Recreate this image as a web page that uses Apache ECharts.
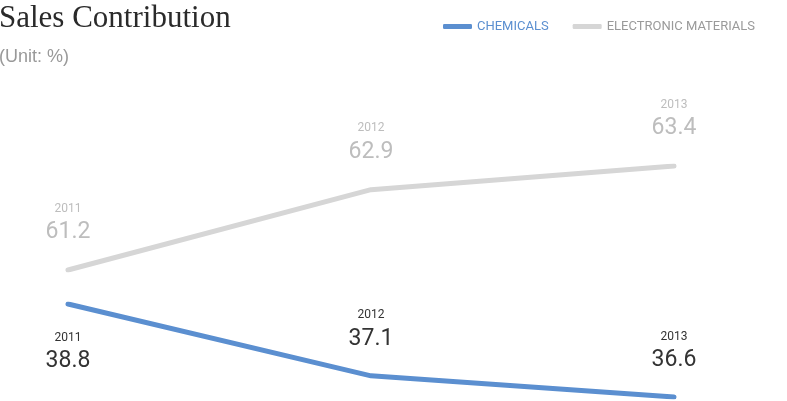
<!DOCTYPE html>
<html>
<head>
<meta charset="utf-8">
<script src="https://cdn.jsdelivr.net/npm/echarts@6/dist/echarts.min.js"></script>
<style>html,body{margin:0;padding:0;background:#fff}#c{width:787px;height:401px}</style>
</head>
<body>
<div id="c"></div>
<script>
var years = ['2011', '2012', '2013'];
var chemicals = [38.8, 37.1, 36.6];
var electronic = [61.2, 62.9, 63.4];
var seriesNames = ['CHEMICALS', 'ELECTRONIC MATERIALS'];

var BLUE = '#5b8fd0', GRAY = '#d6d6d6';

function labelFmt(p) {
  return '{y|' + p.name + '}\n{v|' + Number(p.value).toFixed(1) + '}';
}
function rich(yc, vc) {
  return {
    y: { fontFamily: 'Roboto', fontSize: 12, color: yc, lineHeight: 22, align: 'center' },
    v: { fontFamily: 'Roboto', fontSize: 23, color: vc, lineHeight: 26, align: 'center' }
  };
}

var chart = echarts.init(document.getElementById('c'), null, { renderer: 'canvas' });
var blueLabelPos = ['bottom', 'top', 'top'];

chart.setOption({
  animation: false,
  title: {
    text: 'Sales Contribution',
    subtext: '(Unit: %)',
    left: -1, top: 3,
    padding: 0,
    itemGap: 14,
    textStyle: { fontFamily: 'Liberation Serif', fontSize: 31, fontWeight: 'normal', color: '#2a2a2a' },
    subtextStyle: { fontFamily: 'Liberation Sans', fontSize: 18, color: '#999' }
  },
  legend: {
    left: 438, top: 15,
    icon: 'roundRect',
    itemWidth: 29, itemHeight: 5,
    itemGap: 24,
    textStyle: { fontFamily: 'Roboto', fontSize: 13 },
    data: [
      { name: seriesNames[0], textStyle: { color: BLUE } },
      { name: seriesNames[1], textStyle: { color: '#9a9a9a' } }
    ]
  },
  grid: [
    { left: 68, right: 113, top: 166, height: 104 },
    { left: 68, right: 113, top: 304, height: 93 }
  ],
  xAxis: [
    { type: 'category', gridIndex: 0, data: years, boundaryGap: false, show: false },
    { type: 'category', gridIndex: 1, data: years, boundaryGap: false, show: false }
  ],
  yAxis: [
    { type: 'value', gridIndex: 0, scale: true, min: 'dataMin', max: 'dataMax', show: false },
    { type: 'value', gridIndex: 1, scale: true, min: 'dataMin', max: 'dataMax', show: false }
  ],
  series: [
    {
      name: seriesNames[1], type: 'line', xAxisIndex: 0, yAxisIndex: 0,
      data: electronic,
      symbol: 'circle', symbolSize: 1,
      itemStyle: { color: GRAY },
      lineStyle: { color: GRAY, width: 5, cap: 'round', join: 'round' },
      label: { show: true, position: 'top', distance: 24, formatter: labelFmt, rich: rich('#bdbdbd', '#bdbdbd') }
    },
    {
      name: seriesNames[0], type: 'line', xAxisIndex: 1, yAxisIndex: 1,
      data: chemicals.map(function (v, i) {
        return { value: v, label: { position: blueLabelPos[i], distance: blueLabelPos[i] === 'top' ? 23 : 22 } };
      }),
      symbol: 'circle', symbolSize: 1,
      itemStyle: { color: BLUE },
      lineStyle: { color: BLUE, width: 5, cap: 'round', join: 'round' },
      label: { show: true, formatter: labelFmt, rich: rich('#333', '#333') }
    }
  ]
});
</script>
</body>
</html>
